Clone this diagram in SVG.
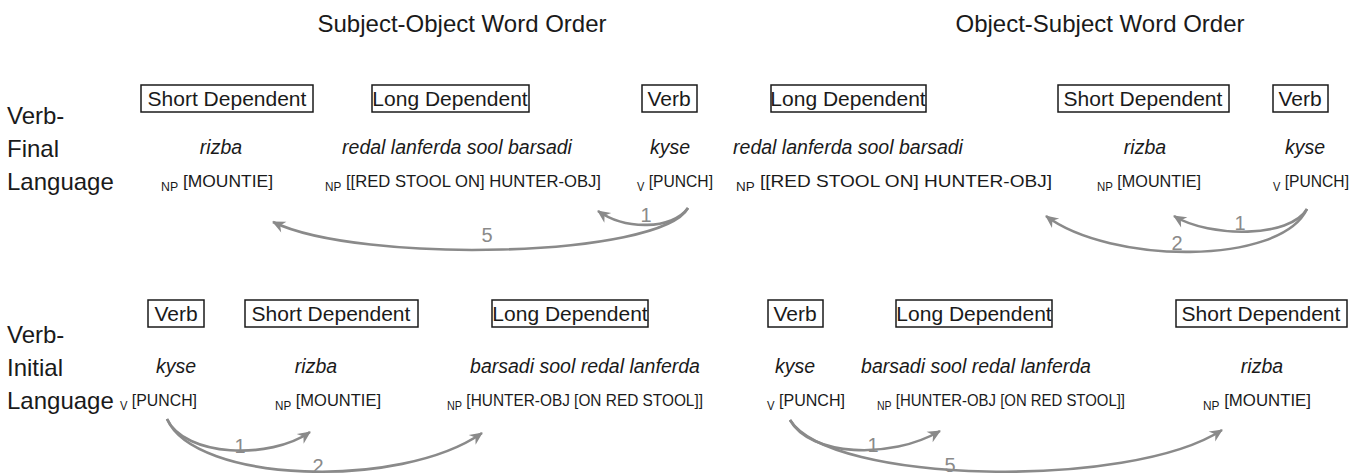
<svg xmlns="http://www.w3.org/2000/svg" width="1361" height="476" viewBox="0 0 1361 476">
  <style>
    text { font-family: "Liberation Sans", Arial, sans-serif; fill: #1a1a1a; }
    .title { font-size: 24px; text-anchor: middle; }
    .row { font-size: 24px; }
    .box { fill: #ffffff; stroke: #1a1a1a; stroke-width: 1.5; }
    .boxlabel { font-size: 21px; text-anchor: middle; }
    .word { font-size: 19.5px; font-style: italic; text-anchor: middle; }
    .phrase { font-size: 17px; }
    .sub { font-size: 12px; }
    .arc { fill: none; stroke: #8a8a8a; stroke-width: 2.6; marker-end: url(#head); }
    .num { font-size: 20px; fill: #8a8a8a; text-anchor: middle; }
  </style>
  <defs>
    <marker id="head" markerUnits="userSpaceOnUse" markerWidth="16" markerHeight="14" refX="0" refY="0" viewBox="-13 -7 16 14" orient="auto">
      <path d="M1,0 L-12,-6 L-8,0 L-12,6 Z" fill="#8a8a8a"/>
    </marker>
  </defs>

  <!-- column headings -->
  <text class="title" x="462" y="32">Subject-Object Word Order</text>
  <text class="title" x="1100" y="32">Object-Subject Word Order</text>

  <!-- row headings -->
  <g id="row-verb-final">
    <text class="row" x="7" y="124">Verb-</text>
    <text class="row" x="7" y="157">Final</text>
    <text class="row" x="7" y="190">Language</text>
  </g>
  <g id="row-verb-initial">
    <text class="row" x="7" y="343">Verb-</text>
    <text class="row" x="7" y="376">Initial</text>
    <text class="row" x="7" y="409">Language</text>
  </g>

  <!-- Verb-final, subject-object -->
  <g id="vf-so-short">
    <rect class="box" x="141" y="85" width="172" height="27"/>
    <text class="boxlabel" x="227" y="106">Short Dependent</text>
    <text class="word" x="221" y="154">rizba</text>
    <text class="phrase" x="161" y="187" textLength="112" lengthAdjust="spacingAndGlyphs"><tspan class="sub" dy="4">NP</tspan><tspan dy="-4"> [MOUNTIE]</tspan></text>
  </g>
  <g id="vf-so-long">
    <rect class="box" x="372" y="85" width="157" height="27"/>
    <text class="boxlabel" x="450" y="106">Long Dependent</text>
    <text class="word" x="457" y="154">redal lanferda sool barsadi</text>
    <text class="phrase" x="325" y="187" textLength="276" lengthAdjust="spacingAndGlyphs"><tspan class="sub" dy="4">NP</tspan><tspan dy="-4"> [[RED STOOL ON]  HUNTER-OBJ]</tspan></text>
  </g>
  <g id="vf-so-verb">
    <rect class="box" x="642" y="85" width="55" height="27"/>
    <text class="boxlabel" x="669" y="106">Verb</text>
    <text class="word" x="670" y="154">kyse</text>
    <text class="phrase" x="637" y="187" textLength="76" lengthAdjust="spacingAndGlyphs"><tspan class="sub" dy="4">V</tspan><tspan dy="-4"> [PUNCH]</tspan></text>
  </g>

  <!-- Verb-final, object-subject -->
  <g id="vf-os-long">
    <rect class="box" x="771" y="85" width="155" height="27"/>
    <text class="boxlabel" x="848" y="106">Long Dependent</text>
    <text class="word" x="848" y="154">redal lanferda sool barsadi</text>
    <text class="phrase" x="736" y="187" textLength="316" lengthAdjust="spacingAndGlyphs"><tspan class="sub" dy="4">NP</tspan><tspan dy="-4"> [[RED STOOL ON] HUNTER-OBJ]</tspan></text>
  </g>
  <g id="vf-os-short">
    <rect class="box" x="1058" y="85" width="171" height="27"/>
    <text class="boxlabel" x="1143" y="106">Short Dependent</text>
    <text class="word" x="1145" y="154">rizba</text>
    <text class="phrase" x="1097" y="187" textLength="104" lengthAdjust="spacingAndGlyphs"><tspan class="sub" dy="4">NP</tspan><tspan dy="-4"> [MOUNTIE]</tspan></text>
  </g>
  <g id="vf-os-verb">
    <rect class="box" x="1273" y="85" width="55" height="27"/>
    <text class="boxlabel" x="1300" y="106">Verb</text>
    <text class="word" x="1305" y="154">kyse</text>
    <text class="phrase" x="1273" y="187" textLength="76" lengthAdjust="spacingAndGlyphs"><tspan class="sub" dy="4">V</tspan><tspan dy="-4"> [PUNCH]</tspan></text>
  </g>

  <!-- Verb-initial, subject-object -->
  <g id="vi-so-verb">
    <rect class="box" x="148" y="300" width="56" height="27"/>
    <text class="boxlabel" x="176" y="321">Verb</text>
    <text class="word" x="176" y="373">kyse</text>
    <text class="phrase" x="120" y="406" textLength="77" lengthAdjust="spacingAndGlyphs"><tspan class="sub" dy="4">V</tspan><tspan dy="-4"> [PUNCH]</tspan></text>
  </g>
  <g id="vi-so-short">
    <rect class="box" x="245" y="300" width="173" height="27"/>
    <text class="boxlabel" x="331" y="321">Short Dependent</text>
    <text class="word" x="316" y="373">rizba</text>
    <text class="phrase" x="275" y="406" textLength="106" lengthAdjust="spacingAndGlyphs"><tspan class="sub" dy="4">NP</tspan><tspan dy="-4"> [MOUNTIE]</tspan></text>
  </g>
  <g id="vi-so-long">
    <rect class="box" x="492" y="300" width="156" height="27"/>
    <text class="boxlabel" x="570" y="321">Long Dependent</text>
    <text class="word" x="585" y="373">barsadi sool redal lanferda</text>
    <text class="phrase" x="447" y="406" textLength="256" lengthAdjust="spacingAndGlyphs"><tspan class="sub" dy="4">NP</tspan><tspan dy="-4"> [HUNTER-OBJ [ON RED STOOL]]</tspan></text>
  </g>

  <!-- Verb-initial, object-subject -->
  <g id="vi-os-verb">
    <rect class="box" x="768" y="300" width="55" height="27"/>
    <text class="boxlabel" x="795" y="321">Verb</text>
    <text class="word" x="795" y="373">kyse</text>
    <text class="phrase" x="767" y="406" textLength="78" lengthAdjust="spacingAndGlyphs"><tspan class="sub" dy="4">V</tspan><tspan dy="-4"> [PUNCH]</tspan></text>
  </g>
  <g id="vi-os-long">
    <rect class="box" x="896" y="300" width="156" height="27"/>
    <text class="boxlabel" x="974" y="321">Long Dependent</text>
    <text class="word" x="976" y="373">barsadi sool redal lanferda</text>
    <text class="phrase" x="877" y="406" textLength="248" lengthAdjust="spacingAndGlyphs"><tspan class="sub" dy="4">NP</tspan><tspan dy="-4"> [HUNTER-OBJ [ON RED STOOL]]</tspan></text>
  </g>
  <g id="vi-os-short">
    <rect class="box" x="1176" y="300" width="171" height="27"/>
    <text class="boxlabel" x="1261" y="321">Short Dependent</text>
    <text class="word" x="1262" y="373">rizba</text>
    <text class="phrase" x="1203" y="406" textLength="108" lengthAdjust="spacingAndGlyphs"><tspan class="sub" dy="4">NP</tspan><tspan dy="-4"> [MOUNTIE]</tspan></text>
  </g>

  <!-- dependency arcs with distance labels -->
  <g id="connectors">
    <path class="arc" d="M688,208 C672,230 625,230 598,211"/>
    <text class="num" x="646" y="222">1</text>
    <path class="arc" d="M688,208 C660,258 360,264 273,222"/>
    <text class="num" x="487" y="242">5</text>

    <path class="arc" d="M1307,209 C1290,238 1210,238 1174,216"/>
    <text class="num" x="1240" y="230">1</text>
    <path class="arc" d="M1307,209 C1280,266 1110,264 1046,216"/>
    <text class="num" x="1177" y="250">2</text>

    <path class="arc" d="M167,419 C185,457 270,460 310,432"/>
    <text class="num" x="240" y="453">1</text>
    <path class="arc" d="M167,419 C195,483 400,490 482,433"/>
    <text class="num" x="318" y="473">2</text>

    <path class="arc" d="M790,420 C810,456 890,460 940,431"/>
    <text class="num" x="873" y="452">1</text>
    <path class="arc" d="M790,420 C830,484 1130,490 1222,430"/>
    <text class="num" x="950" y="472">5</text>
  </g>
</svg>
